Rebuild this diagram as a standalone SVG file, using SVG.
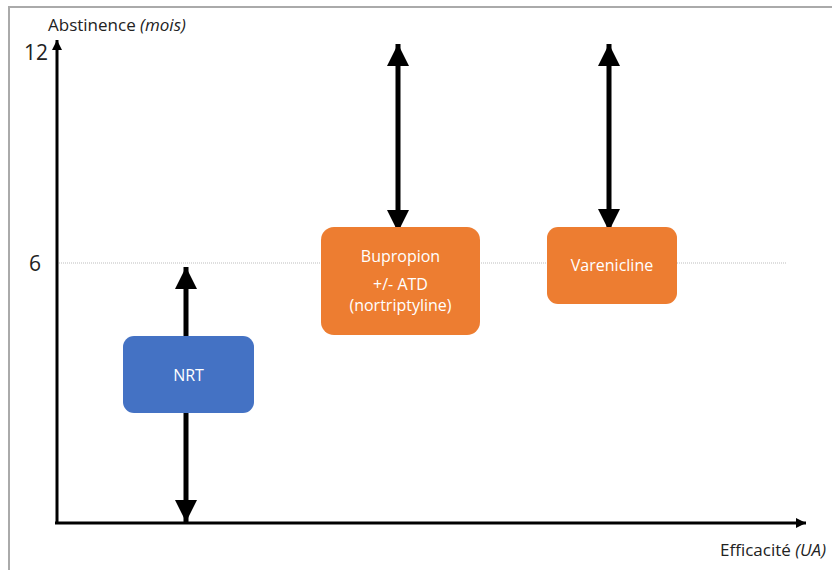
<svg xmlns="http://www.w3.org/2000/svg" width="832" height="570" viewBox="0 0 832 570">
  <defs>
    <style>
      .lbl { font-family: "Open Sans", "Noto Sans", "Liberation Sans", sans-serif; fill: #222; }
      .box-text { font-family: "Open Sans", "Noto Sans", "Liberation Sans", sans-serif; font-size: 16px; fill: #fff; text-anchor: middle; }
      .big { stroke: #000; stroke-width: 5; fill: none; }
      .axis { stroke: #000; stroke-width: 3; fill: none; }
    </style>
    <marker id="bigHead" markerUnits="userSpaceOnUse" markerWidth="22" markerHeight="22" viewBox="0 0 20 20" refX="20" refY="10" orient="auto-start-reverse">
      <path d="M0,0 L20,10 L0,20 Z" fill="#000"/>
    </marker>
    <marker id="axHead" markerUnits="userSpaceOnUse" markerWidth="10" markerHeight="10" viewBox="0 0 10 10" refX="10" refY="5" orient="auto">
      <path d="M0,0 L10,5 L0,10 Z" fill="#000"/>
    </marker>
  </defs>
  <rect x="0" y="0" width="832" height="570" fill="#fff"/>
  <path d="M9,570 L9,7 L832,7" fill="none" stroke="#aaa" stroke-width="2"/>

  <g id="grid">
    <line x1="57" y1="263" x2="787" y2="263" stroke="#bdbdbd" stroke-width="1" stroke-dasharray="1,1"/>
  </g>

  <g id="connectors">
    <line class="axis" x1="57" y1="524" x2="57" y2="40" marker-end="url(#axHead)"/>
    <line class="axis" x1="55" y1="523" x2="806" y2="523" marker-end="url(#axHead)"/>
    <line class="big" x1="186" y1="267" x2="186" y2="522" marker-start="url(#bigHead)" marker-end="url(#bigHead)"/>
    <line class="big" x1="398" y1="44" x2="398" y2="232" marker-start="url(#bigHead)" marker-end="url(#bigHead)"/>
    <line class="big" x1="609" y1="44" x2="609" y2="231" marker-start="url(#bigHead)" marker-end="url(#bigHead)"/>
  </g>

  <g id="labels">
    <text class="lbl" x="48" y="31" font-size="17">Abstinence <tspan font-style="italic">(mois)</tspan></text>
    <text class="lbl" x="24" y="60" font-size="21">12</text>
    <text class="lbl" x="29" y="271" font-size="21">6</text>
    <text class="lbl" x="826" y="556" font-size="17" text-anchor="end">Efficacité <tspan font-style="italic">(UA)</tspan></text>
  </g>

  <g id="node-nrt">
    <rect x="123" y="336" width="131" height="77" rx="11" fill="#4472C4"/>
    <text class="box-text" x="188.5" y="381">NRT</text>
  </g>

  <g id="node-bupropion">
    <rect x="321" y="227" width="159" height="108" rx="13" fill="#ED7D31"/>
    <text class="box-text" x="400.5" y="262">Bupropion</text>
    <text class="box-text" x="400.5" y="290">+/- ATD</text>
    <text class="box-text" x="400.5" y="311">(nortriptyline)</text>
  </g>

  <g id="node-varenicline">
    <rect x="547" y="227" width="130" height="77" rx="11" fill="#ED7D31"/>
    <text class="box-text" x="612" y="271">Varenicline</text>
  </g>
</svg>
